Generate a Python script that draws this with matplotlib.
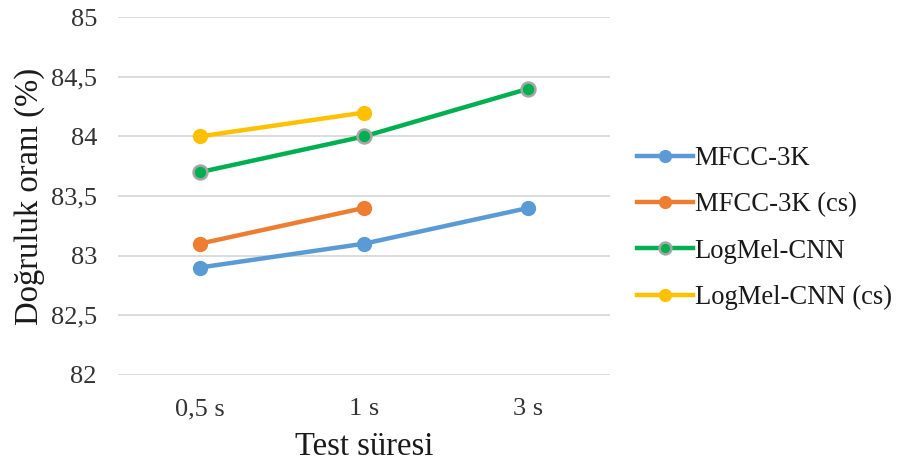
import matplotlib.pyplot as plt
from matplotlib.ticker import FuncFormatter

plt.rcParams['font.family'] = ['Liberation Serif', 'DejaVu Serif']

kategoriler = ['0,5 s', '1 s', '3 s']
mfcc = [82.9, 83.1, 83.4]
mfcc_cs = [83.1, 83.4]
logmel = [83.7, 84.0, 84.4]
logmel_cs = [84.0, 84.2]

def virgul(value, tick_number):
    s = f"{value:g}"
    return s.replace('.', ',')

fig = plt.figure(figsize=(8.99, 4.65), dpi=100)
ax = fig.add_axes([0.131, 0.194, 0.548, 0.769])

x = list(range(len(kategoriler)))
ax.plot(x, mfcc, marker='o', color='#5B9BD5', lw=3.2, ms=10, label='MFCC-3K', zorder=3)
ax.plot(x[:2], mfcc_cs, marker='o', color='#ED7D31', lw=3.2, ms=10, label='MFCC-3K (cs)', zorder=3)
ax.plot(x, logmel, marker='o', color='#00B050', lw=3.2, ms=10, mec='#A6A6A6', mew=1.8,
        label='LogMel-CNN', zorder=3)
ax.plot(x[:2], logmel_cs, marker='o', color='#FFC000', lw=3.2, ms=10, label='LogMel-CNN (cs)', zorder=3)

ax.set_xlim(-0.5, 2.5)
ax.set_ylim(82, 85)
ax.set_yticks([82, 82.5, 83, 83.5, 84, 84.5, 85])
ax.yaxis.set_major_formatter(FuncFormatter(virgul))
ax.set_xticks(x)
ax.set_xticklabels(kategoriler)
ax.grid(axis='y', color='#D9D9D9', lw=1.3)
ax.set_axisbelow(True)
for s in ax.spines.values():
    s.set_visible(False)
ax.tick_params(length=0, labelsize=19, colors='#333333')
ax.tick_params(axis='y', pad=15)
ax.tick_params(axis='x', pad=17)

ax.set_xlabel('Test süresi', fontsize=23.5, color='#1a1a1a', labelpad=8)
ax.set_ylabel('Doğruluk oranı (%)', fontsize=23.5, color='#1a1a1a')
ax.yaxis.set_label_coords(-0.147, 0.5)

leg = ax.legend(loc='center left', bbox_to_anchor=(1.006, 0.41), frameon=False, fontsize=19.2,
                handlelength=2.1, labelspacing=0.8, handletextpad=0.05, labelcolor='#1a1a1a',
                markerscale=0.85)

fig.savefig('out.png', dpi=100)
